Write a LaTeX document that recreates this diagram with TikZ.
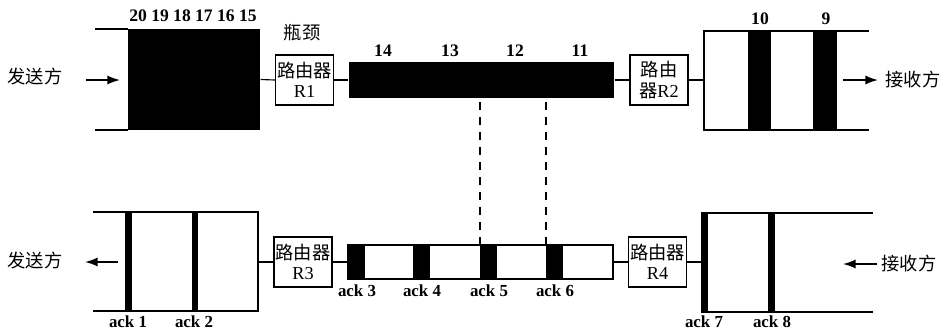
\documentclass[tikz,border=0pt]{standalone}
\usepackage{fontspec}
\setmainfont{Liberation Serif}
\newfontfamily\cjk{Noto Sans CJK SC}
\usetikzlibrary{arrows.meta,fit,positioning}

\begin{document}
\begin{tikzpicture}[
  x=0.025cm, y=-0.025cm,
  line width=0.8pt,
  every node/.style={font=\fontsize{12}{14}\selectfont},
  router/.style={draw, inner sep=0pt, minimum width=1.45cm, minimum height=1.25cm,
                 align=center, font=\fontsize{13}{14.5}\selectfont},
  pkt/.style={fill=black, inner sep=0pt},
  num/.style={font=\fontsize{12.5}{14}\selectfont\bfseries},
  ack/.style={font=\fontsize{12}{14}\selectfont\bfseries},
  side/.style={font=\fontsize{13}{14}\selectfont\cjk},
  flow/.style={-{Latex[length=9pt,width=6.5pt]}, line width=1.1pt},
  gapline/.style={dash pattern=on 0.2cm off 0.175cm},
]
\useasboundingbox (0,0) rectangle (942,332);

%% ── Top row: data segments, sender -> receiver ─────────────────────────────
\node[side] (snd1) at (35,77) {发送方};
\coordinate (f1a) at (86,80);
\coordinate (f1b) at (120,80);
\draw[flow] (f1a) -- (f1b);

% queue at the sender side
\draw (95,29) -- (128,29) (95,130) -- (128,130);
\node[pkt, fit={(128,29) (260,130)}] (win1) {};
\node[num] at (193,16) {20 19 18 17 16 15};

% bottleneck router
\node[router] (R1) at (304.5,80) {{\cjk 路由器}\\R1};
\node[side] at (302,33) {瓶颈};

% slow link
\node[pkt, fit={(349,62) (614,98)}] (link1) {};
\foreach \x/\n in {383/14, 450/13, 515/12, 580/11}{
  \node[num] at (\x,51) {\n};
}

\node[router] (R2) at (659,80) {{\cjk 路由}\\{\cjk 器}R2};

% receiver side
\coordinate (rcv1) at (704,80);
\draw (869,31) -- (704,31) -- (704,130) -- (869,130);
\fill (748,31) rectangle (771,130);
\fill (813,31) rectangle (837,130);
\node[num] at (760,19) {10};
\node[num] at (826,19) {9};

\draw (win1.east) -- (R1.west);
\draw (R1.east) -- (link1.west);
\draw (link1.east) -- (R2.west);
\draw (R2.east) -- (rcv1);

\coordinate (f2a) at (843,80);
\coordinate (f2b) at (878,80);
\draw[flow] (f2a) -- (f2b);
\node[side] (rcv1lab) at (913,80) {接收方};

%% ── Bottom row: acks, receiver -> sender ───────────────────────────────────
\node[side] (snd2) at (35,261) {发送方};
\coordinate (f3a) at (118,262);
\coordinate (f3b) at (85,262);
\draw[flow] (f3a) -- (f3b);

% acks arriving at the sender
\draw (93,212) -- (258,212) -- (258,311) -- (93,311);
\coordinate (snd2q) at (258,262);
\fill (125,212) rectangle (132,311);
\fill (192,212) rectangle (198,311);
\node[ack] at (128,322) {ack 1};
\node[ack] at (194,322) {ack 2};

\node[router] (R3) at (303,262) {{\cjk 路由器}\\R3};

% return link
\node[draw, inner sep=0pt, fit={(348,245) (613,279)}] (link2) {};
\foreach \x/\n in {348/3, 413/4, 480/5, 546/6}{
  \fill (\x,245) rectangle ++(17,34);
  \coordinate (a\n) at (\x,245);
  \node[ack] at (\x+9,291) {ack \n};
}

\node[router] (R4) at (657.5,262) {{\cjk 路由器}\\R4};

% receiver side
\draw (873,213) -- (702,213) -- (702,312) -- (873,312);
\coordinate (rcv2) at (702,262);
\fill (702,213) rectangle (708,312);
\fill (768,213) rectangle (775,312);
\node[ack] at (704,322) {ack 7};
\node[ack] at (772,322) {ack 8};

\draw (snd2q) -- (R3.west);
\draw (R3.east) -- (link2.west);
\draw (link2.east) -- (R4.west);
\draw (R4.east) -- (rcv2);

\coordinate (f4a) at (877,264);
\coordinate (f4b) at (843,264);
\draw[flow] (f4a) -- (f4b);
\node[side] (rcv2lab) at (909,264) {接收方};

%% ── Spacing of data vs. acks ──────────────────────────────────────────────
\draw[gapline] (a5) -- (a5 |- link1.south);
\draw[gapline] (a6) -- (a6 |- link1.south);

\end{tikzpicture}
\end{document}
